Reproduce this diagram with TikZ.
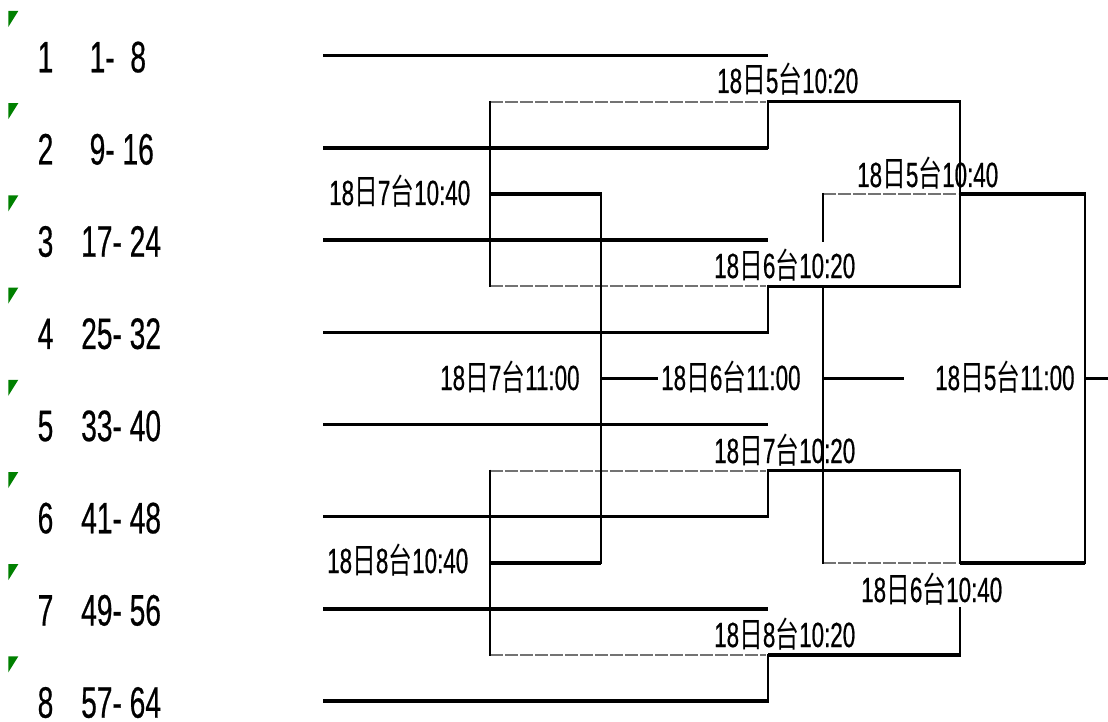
\documentclass[tikz,border=0pt]{standalone}
\usepackage{fontspec}
\newfontfamily\lat[FakeStretch=0.64,FakeBold=0.5]{Liberation Sans}
\newfontfamily\cjkf[FakeStretch=0.68]{Noto Sans CJK SC}
\newcommand\lb[2]{{\lat 18}{\cjkf 日}{\lat #1}{\cjkf 台}{\lat #2}}
\definecolor{xg}{RGB}{0,128,0}
\begin{document}
\begin{tikzpicture}[x=1pt,y=-1pt,
  hl/.style={line width=3.4pt},
  vl/.style={line width=2.3pt},
  dl/.style={line width=2.2pt, draw=black!55, dash pattern=on 13pt off 2pt},
  lab/.style={anchor=base west, inner sep=0pt, font=\fontsize{35}{40}\selectfont},
  team/.style={anchor=base west, inner sep=0pt, font=\lat\fontsize{44}{50}\selectfont},
  tri/.style={fill=xg}]
\useasboundingbox (0,0) rectangle (1108,722);
% markers and team texts
\foreach \k/\n/\r/\x in {0/1/{1-\ \ 8}/89.5, 1/2/{9- 16}/89.5, 2/3/{17- 24}/81, 3/4/{25- 32}/81,
                         4/5/{33- 40}/81, 5/6/{41- 48}/81, 6/7/{49- 56}/81, 7/8/{57- 64}/81}{
  \fill[tri] (8.3,{11+92.2*\k}) -- (18.3,{11+92.2*\k}) -- (8.3,{27+92.2*\k}) -- cycle;
  \node[team] (n\n) at (37.5,{72.3+92.2*\k}) {\n};
  \node[team] (r\n) at (\x,{72.3+92.2*\k}) {\r};
  \draw[hl] (323,{55.7+92.2*\k}) coordinate (ls\n) -- (768,{55.7+92.2*\k}) coordinate (le\n);
}
% first round
\foreach \j in {0,...,3}{
  \draw[dl] (490,{101.8+184.4*\j}) -- (766,{101.8+184.4*\j});
  \draw[hl] (768,{101.8+184.4*\j}) -- (960,{101.8+184.4*\j});
  \draw[vl] (768,{100.3+184.4*\j}) -- (768,{149.4+184.4*\j});
}
% left side loops
\draw[vl] (490,100.8) -- (490,287.2);
\draw[vl] (490,469.6) -- (490,656);
\draw[hl] (489,194) -- (601,194);
\draw[hl] (489,562.8) -- (601,562.8);
\draw[vl] (601,192.5) -- (601,564.3);
% second round
\draw[vl] (960,100.3) -- (960,287.7);
\draw[vl] (960,469.1) -- (960,564.3);
\draw[vl] (960,607) -- (960,656.5);
\draw[dl] (823,194) -- (958,194);
\draw[dl] (823,562.8) -- (958,562.8);
\draw[hl] (960,194) -- (1085,194);
\draw[hl] (960,562.8) -- (1085,562.8);
\draw[vl] (823,193) -- (823,242);
\draw[vl] (823,285.2) -- (823,563.8);
\draw[vl] (1085,192.5) -- (1085,564.3);
% middle row
\draw[hl] (601,378.4) -- (658,378.4);
\draw[hl] (823,378.4) -- (904,378.4);
\draw[hl] (1085,378.4) -- (1108,378.4);
% labels
\node[lab] (a1) at (717,93) {\lb{5}{10:20}};
\node[lab] (a2) at (329,205) {\lb{7}{10:40}};
\node[lab] (a3) at (857,187) {\lb{5}{10:40}};
\node[lab] (a4) at (714,278) {\lb{6}{10:20}};
\node[lab] (a5) at (440,390) {\lb{7}{11:00}};
\node[lab] (a6) at (661,390) {\lb{6}{11:00}};
\node[lab] (a7) at (935,390) {\lb{5}{11:00}};
\node[lab] (a8) at (714,463) {\lb{7}{10:20}};
\node[lab] (a9) at (327,573) {\lb{8}{10:40}};
\node[lab] (a10) at (861,602) {\lb{6}{10:40}};
\node[lab] (a11) at (714,647) {\lb{8}{10:20}};
\end{tikzpicture}
\end{document}
